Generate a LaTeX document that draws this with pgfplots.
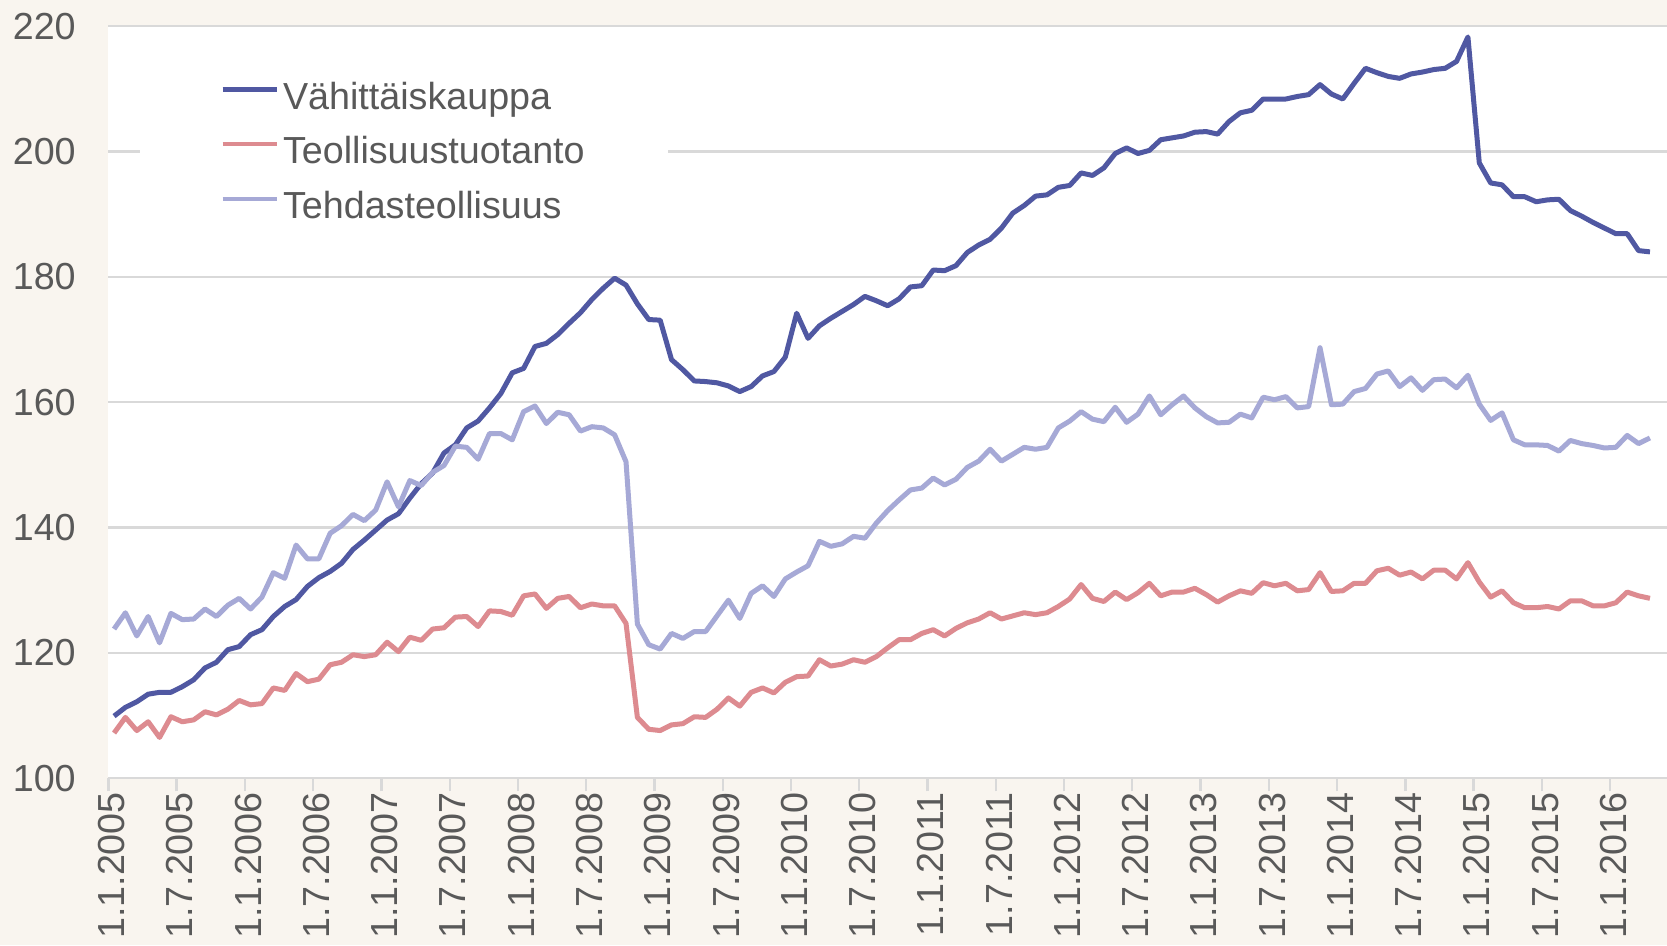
\documentclass[border=0pt]{standalone}
\usepackage{fontspec}
\setmainfont{Liberation Sans}
\usepackage{pgfplots}
\usepackage{pgfplotstable}
\pgfplotsset{compat=1.18}

\definecolor{bgbeige}{RGB}{249,245,239}
\definecolor{gridgray}{RGB}{217,217,217}
\definecolor{txtgray}{RGB}{89,89,89}
\definecolor{vahblue}{RGB}{80,88,162}
\definecolor{teopink}{RGB}{221,139,144}
\definecolor{tehlav}{RGB}{166,169,214}

\newcommand{\chartfont}{\fontsize{11.3}{13}\selectfont}

% monthly index, i = 0 is January 2005
\pgfplotstableread{
i vah teo teh
0 109.9 107.2 123.8
1 111.3 109.7 126.4
2 112.2 107.6 122.7
3 113.4 109.0 125.8
4 113.7 106.5 121.6
5 113.7 109.8 126.3
6 114.6 109.0 125.3
7 115.7 109.3 125.4
8 117.6 110.6 127.0
9 118.5 110.1 125.8
10 120.5 111.0 127.6
11 121.0 112.4 128.7
12 122.9 111.7 127.0
13 123.7 111.9 128.9
14 125.8 114.4 132.8
15 127.4 114.0 131.9
16 128.5 116.7 137.2
17 130.6 115.4 135.0
18 132.0 115.8 135.0
19 133.0 118.1 139.1
20 134.3 118.5 140.3
21 136.5 119.7 142.1
22 138.0 119.4 141.1
23 139.6 119.7 142.8
24 141.2 121.7 147.3
25 142.2 120.2 143.3
26 144.7 122.5 147.5
27 147.0 122.0 146.7
28 148.7 123.8 148.8
29 151.9 124.0 149.9
30 153.2 125.7 153.0
31 155.9 125.8 152.8
32 157.0 124.2 150.9
33 159.1 126.7 155.0
34 161.4 126.6 155.0
35 164.7 126.0 154.0
36 165.4 129.1 158.5
37 168.9 129.4 159.4
38 169.4 127.1 156.6
39 170.8 128.7 158.4
40 172.6 129.0 158.0
41 174.3 127.2 155.4
42 176.4 127.8 156.1
43 178.2 127.5 155.9
44 179.8 127.5 154.8
45 178.7 124.7 150.5
46 175.7 109.7 124.6
47 173.2 107.8 121.3
48 173.1 107.6 120.6
49 166.8 108.5 123.1
50 165.2 108.7 122.3
51 163.4 109.8 123.4
52 163.3 109.7 123.4
53 163.1 111.0 125.9
54 162.6 112.8 128.4
55 161.7 111.5 125.5
56 162.5 113.7 129.5
57 164.2 114.4 130.7
58 164.9 113.6 129.0
59 167.2 115.3 131.8
60 174.2 116.2 132.9
61 170.2 116.3 133.9
62 172.2 118.9 137.8
63 173.4 117.9 137.0
64 174.5 118.2 137.4
65 175.6 118.9 138.6
66 176.9 118.5 138.3
67 176.2 119.4 140.7
68 175.4 120.8 142.7
69 176.5 122.1 144.4
70 178.4 122.1 146.0
71 178.6 123.1 146.3
72 181.1 123.7 147.9
73 181.0 122.7 146.8
74 181.8 123.9 147.7
75 183.9 124.8 149.6
76 185.1 125.4 150.6
77 186.0 126.4 152.5
78 187.8 125.4 150.6
79 190.2 125.9 151.7
80 191.4 126.4 152.8
81 192.9 126.1 152.5
82 193.1 126.4 152.8
83 194.3 127.4 155.9
84 194.6 128.6 157.0
85 196.6 130.9 158.5
86 196.2 128.7 157.3
87 197.4 128.2 156.9
88 199.7 129.7 159.2
89 200.6 128.5 156.8
90 199.7 129.6 158.1
91 200.2 131.1 161.0
92 201.9 129.1 158.0
93 202.2 129.7 159.6
94 202.5 129.7 161.0
95 203.1 130.3 159.1
96 203.2 129.3 157.7
97 202.8 128.1 156.7
98 204.8 129.1 156.8
99 206.2 129.9 158.1
100 206.6 129.5 157.5
101 208.4 131.2 160.8
102 208.4 130.7 160.4
103 208.4 131.1 160.9
104 208.8 129.9 159.1
105 209.1 130.1 159.3
106 210.7 132.8 168.7
107 209.2 129.8 159.6
108 208.4 129.9 159.7
109 210.9 131.1 161.7
110 213.3 131.1 162.2
111 212.6 133.1 164.5
112 212.0 133.5 165.0
113 211.7 132.4 162.5
114 212.4 132.9 163.9
115 212.7 131.8 161.9
116 213.1 133.2 163.6
117 213.3 133.2 163.7
118 214.4 131.8 162.3
119 218.3 134.4 164.3
120 198.2 131.3 159.7
121 195.0 128.9 157.1
122 194.7 129.9 158.3
123 192.8 128.0 154.0
124 192.8 127.2 153.2
125 192.0 127.2 153.2
126 192.3 127.4 153.1
127 192.4 127.0 152.2
128 190.6 128.3 153.9
129 189.7 128.3 153.4
130 188.7 127.5 153.1
131 187.8 127.5 152.7
132 186.9 128.0 152.8
133 186.9 129.7 154.7
134 184.2 129.1 153.4
135 184.0 128.7 154.3
}\indices

\begin{document}
\begin{tikzpicture}
\fill[bgbeige] (0,0) rectangle (500pt,283.5pt);
\begin{axis}[
    at={(32.5pt,50.1pt)}, anchor=south west,
    width=467.5pt, height=225.5pt, scale only axis,
    xmin=-0.5, xmax=136.5, ymin=100, ymax=220,
    axis background/.style={fill=white},
    axis line style={draw=none},
    ytick={100,120,140,160,180,200,220},
    ymajorgrids, grid style={gridgray, line width=0.7pt},
    xtick={-0.5,5.5,11.5,17.5,23.5,29.5,35.5,41.5,47.5,53.5,59.5,65.5,71.5,77.5,83.5,89.5,95.5,101.5,107.5,113.5,119.5,125.5,131.5},
    xticklabels={1.1.2005,1.7.2005,1.1.2006,1.7.2006,1.1.2007,1.7.2007,1.1.2008,1.7.2008,1.1.2009,1.7.2009,1.1.2010,1.7.2010,1.1.2011,1.7.2011,1.1.2012,1.7.2012,1.1.2013,1.7.2013,1.1.2014,1.7.2014,1.1.2015,1.7.2015,1.1.2016},
    tick pos=left, tick align=outside, major tick length=4pt,
    xtick style={gridgray, line width=0.7pt},
    ytick style={draw=none},
    /pgf/number format/assume math mode=true,
    xticklabel style={font=\chartfont, text=txtgray, rotate=90, anchor=east, inner sep=0pt, yshift=-1pt},
    yticklabel style={font=\chartfont, text=txtgray, anchor=east, inner sep=0pt, xshift=-5.6pt},
    legend style={at={(0.0201,0.963)}, anchor=north west, fill=white, draw=none,
        inner xsep=24pt, inner ysep=8pt, font=\chartfont, text=txtgray, row sep=5.6pt,
        nodes={inner xsep=1pt, inner ysep=0pt, text height=8.3pt, text depth=2.5pt}},
    legend cell align=left,
    legend image code/.code={\draw[#1, line width=1.4pt] (0pt,3pt) -- (16.4pt,3pt);},
    every axis plot/.append style={line width=1.5pt, line join=round, mark=none},
]
\addplot[vahblue] table[x=i, y=vah] {\indices};
\addplot[teopink] table[x=i, y=teo] {\indices};
\addplot[tehlav] table[x=i, y=teh] {\indices};
\legend{Vähittäiskauppa, Teollisuustuotanto, Tehdasteollisuus}
\end{axis}
\pgfresetboundingbox
\useasboundingbox (0,0) rectangle (500pt,283.5pt);
\end{tikzpicture}
\end{document}
